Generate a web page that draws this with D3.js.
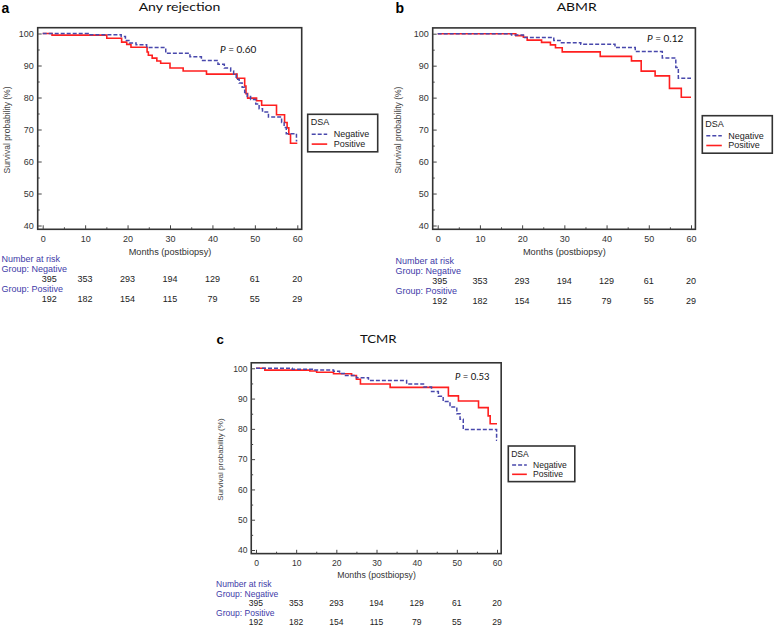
<!DOCTYPE html>
<html><head><meta charset="utf-8">
<script src="https://cdn.jsdelivr.net/npm/d3@7"></script>
<style>body{margin:0;background:#fff} svg{display:block}</style>
</head><body>
<svg id="chart" width="774" height="626"></svg>
<script>
// ---------- data ----------
const monthTicks = [0, 10, 20, 30, 40, 50, 60];
const monthMinor = [5, 15, 25, 35, 45, 55];
const survTicks = [40, 50, 60, 70, 80, 90, 100];
const survMinor = [45, 55, 65, 75, 85, 95];
const riskNeg = [395, 353, 293, 194, 129, 61, 20];
const riskPos = [192, 182, 154, 115, 79, 55, 29];
const groups = ["Negative", "Positive"];

// Kaplan-Meier steps: [month, survival %]
const anyNeg = [[0,100],[10.7,99.6],[18.5,99.1],[19.5,97.8],[20.5,97.0],[22,96.5],[24.5,95.6],[29,93.8],[34.7,92.7],[37.4,91.6],[41.3,90.4],[42.8,89.2],[44.3,88.3],[45,87.3],[45.6,85.7],[46.3,84.5],[47,83.2],[47.6,81.6],[48.2,80.3],[49,79.4],[50.2,78.0],[51,76.5],[51.8,75.5],[53.2,73.9],[56.3,72.2],[56.9,70.6],[57.4,68.7],[59.8,66.5],[60,66.5]];
const anyPos = [[0,100],[2.2,99.5],[15.1,98.5],[18.6,97.3],[19.8,96.6],[20.8,95.7],[24.6,94.2],[24.9,93.2],[25.8,92.3],[26.9,91.4],[27.8,90.7],[30,89.2],[33.1,88.3],[38.6,87.3],[45.8,86.0],[47.6,83.6],[47.9,81.2],[48.3,79.8],[50.4,79.0],[51.6,77.6],[55.1,74.6],[57,72.2],[57.6,70.5],[58,68.5],[58.4,65.7],[60,65.7]];
const abmrNeg = [[0,100],[17.5,99.6],[20.3,98.8],[27.5,97.9],[29,97.2],[33.9,96.7],[42,95.7],[46.8,94.4],[53.2,92.4],[56.4,89.4],[57,86.1],[60,86.1]];
const abmrPos = [[0,100],[18.5,99.4],[20.3,98.9],[21.2,98.0],[24.6,97.3],[26.7,96.5],[27.9,95.6],[29.5,94.3],[38.5,92.9],[45.9,91.5],[48.2,88.3],[51.5,86.8],[54.9,82.9],[57.7,80.1],[60,80.1]];
const tcmrNeg = [[0,100],[9,99.7],[14.3,99.4],[19.3,99.0],[20.8,98.3],[22,97.6],[25,96.9],[28,96.0],[37.5,94.8],[41.7,93.8],[43.7,92.3],[45.4,90.8],[46.6,89.0],[48.3,87.2],[50,85.0],[50.8,83.2],[51.6,79.8],[59.9,76.2],[60,76.2]];
const tcmrPos = [[0,100],[2.2,99.4],[13.4,99.1],[15.1,98.7],[19.3,98.2],[23.8,97.6],[25,96.4],[26,94.8],[33.4,93.7],[47.9,90.9],[50.4,89.2],[55.4,87.0],[57.8,84.3],[58.3,81.7],[60,81.7]];

const panelLetters = ["a", "b", "c"];
const panelTitles = ["Any rejection", "ABMR", "TCMR"];
const pValues = ["0.60", "0.12", "0.53"];

// ---------- layout ----------
const layouts = [
  {x0:42.7, x1:297.3, yTop:33.5, yBot:225.5, k:1, letterX:1.5, letterY:13, titleX:179.5, titleY:11.3, titleW:81.7,
   pX:220, pY:52.5, yTitleX:6.5, legX:307.7, legY:114.3, tabX:1.5, tabY:259.3, firstShift:6.5, series:[anyNeg, anyPos]},
  {x0:437.7, x1:691, yTop:33.7, yBot:225.5, k:1, letterX:395.5, letterY:13.3, titleX:576.7, titleY:11.3, titleW:40,
   pX:647, pY:41.5, yTitleX:397.5, legX:702.3, legY:115.7, tabX:395.5, tabY:260.7, firstShift:2, series:[abmrNeg, abmrPos]},
  {x0:256, x1:497, yTop:368.3, yBot:550, k:0.95, letterX:216.5, letterY:343.5, titleX:378.3, titleY:343.3, titleW:36.7,
   pX:455, pY:380, yTitleX:220.5, legX:508.3, legY:446, tabX:216, tabY:584, firstShift:0, series:[tcmrNeg, tcmrPos]}
];

const colNeg = "#4848ac", colPos = "#ff1f1f", frameCol = "#333", labCol = "#3e3aa8";
const svg = d3.select("#chart");
const sans = "'Liberation Sans', Arial, sans-serif";
const titleFont = "Lato, 'Open Sans', sans-serif";

layouts.forEach((L, i) => {
  const k = L.k;
  const g = svg.append("g");
  const x = d3.scaleLinear().domain([0, 60]).range([L.x0, L.x1]);
  const y = d3.scaleLinear().domain([40, 100]).range([L.yBot, L.yTop]);
  const fL = L.x0 - 5 * k, fR = L.x1 + 4.4 * k, fT = L.yTop - 5.8 * k, fB = L.yBot + 3.8 * k;

  // titles
  g.append("text").attr("x", L.letterX).attr("y", L.letterY).text(panelLetters[i])
    .attr("font-family", sans).attr("font-weight", "bold").attr("font-size", 14 * k).attr("fill", "#000");
  g.append("text").attr("x", L.titleX).attr("y", L.titleY).text(panelTitles[i])
    .attr("text-anchor", "middle").attr("font-family", titleFont).attr("font-size", 11.8 * k).attr("fill", "#111")
    .attr("textLength", L.titleW).attr("lengthAdjust", "spacingAndGlyphs");

  // frame
  g.append("rect").attr("x", fL).attr("y", fT).attr("width", fR - fL).attr("height", fB - fT)
    .attr("fill", "none").attr("stroke", frameCol).attr("stroke-width", 1.6);

  // axes
  const xAxis = g.append("g").attr("transform", `translate(0,${fB})`)
    .call(d3.axisBottom(x).tickValues(monthTicks).tickSize(-4 * k).tickPadding(6.5 * k).tickFormat(d3.format("d")));
  const xMinor = g.append("g").attr("transform", `translate(0,${fB})`)
    .call(d3.axisBottom(x).tickValues(monthMinor).tickSize(-2 * k).tickFormat(""));
  const yAxis = g.append("g").attr("transform", `translate(${fL},0)`)
    .call(d3.axisLeft(y).tickValues(survTicks).tickSize(-4 * k).tickPadding(4 * k).tickFormat(d3.format("d")));
  const yMinor = g.append("g").attr("transform", `translate(${fL},0)`)
    .call(d3.axisLeft(y).tickValues(survMinor).tickSize(-2 * k).tickFormat(""));
  [xAxis, xMinor, yAxis, yMinor].forEach(a => {
    a.select(".domain").remove();
    a.selectAll(".tick line").attr("stroke", "#444").attr("stroke-width", 1);
    a.selectAll(".tick text").attr("font-family", sans).attr("font-size", 9 * k).attr("fill", "#333");
  });

  // axis titles
  g.append("text").attr("x", (L.x0 + L.x1) / 2).attr("y", fB + 22.5 * k).text("Months (postbiopsy)")
    .attr("text-anchor", "middle").attr("dominant-baseline", "central")
    .attr("font-family", sans).attr("font-size", 9.2 * k).attr("fill", "#333");
  g.append("text").attr("transform", `translate(${L.yTitleX},${(L.yTop + L.yBot) / 2 + 0.5 * k}) rotate(-90)`)
    .text("Survival probability (%)").attr("text-anchor", "middle").attr("dominant-baseline", "central")
    .attr("font-family", sans).attr("font-size", 8.5 * k).attr("fill", "#444");

  // curves
  const line = d3.line().x(d => x(d[0])).y(d => y(d[1])).curve(d3.curveStepAfter);
  g.append("path").attr("d", line(L.series[1])).attr("fill", "none")
    .attr("stroke", colPos).attr("stroke-width", 1.6);
  g.append("path").attr("d", line(L.series[0])).attr("fill", "none")
    .attr("stroke", colNeg).attr("stroke-width", 1.5).attr("stroke-dasharray", "4,2");

  // P value
  const pt = g.append("text").attr("x", L.pX).attr("y", L.pY)
    .attr("font-family", titleFont).attr("font-size", 10 * k).attr("fill", "#111");
  pt.append("tspan").attr("font-style", "italic").text("P");
  pt.append("tspan").text(" = " + pValues[i]);

  // legend
  const lg = g.append("g").attr("transform", `translate(${L.legX},${L.legY})`);
  lg.append("rect").attr("width", 70 * k).attr("height", 37.5 * k).attr("fill", "#fff")
    .attr("stroke", frameCol).attr("stroke-width", 1.6);
  lg.append("text").attr("x", 3 * k).attr("y", 8 * k).text("DSA").attr("dominant-baseline", "central")
    .attr("font-family", sans).attr("font-size", 9 * k).attr("fill", "#222");
  groups.forEach((name, j) => {
    const yy = (20 + 9.8 * j) * k;
    lg.append("line").attr("x1", 4 * k).attr("x2", 19.5 * k).attr("y1", yy).attr("y2", yy)
      .attr("stroke", j ? colPos : colNeg).attr("stroke-width", 1.6)
      .attr("stroke-dasharray", j ? null : "4,2");
    lg.append("text").attr("x", 26 * k).attr("y", yy).text(name).attr("dominant-baseline", "central")
      .attr("font-family", sans).attr("font-size", 9 * k).attr("fill", "#222");
  });

  // number at risk table
  const rowH = 10 * k;
  const tab = g.append("g").attr("font-family", sans).attr("font-size", 9 * k);
  const labels = ["Number at risk", "Group: Negative", null, "Group: Positive", null];
  labels.forEach((t, r) => {
    if (t) tab.append("text").attr("x", L.tabX).attr("y", L.tabY + r * rowH).text(t)
      .attr("dominant-baseline", "central").attr("fill", labCol);
  });
  [riskNeg, riskPos].forEach((arr, r) => {
    tab.selectAll(null).data(arr).enter().append("text")
      .attr("x", (d, j) => x(monthTicks[j]) + (j === 0 ? L.firstShift : 0))
      .attr("y", L.tabY + (2 + 2 * r) * rowH)
      .attr("text-anchor", "middle").attr("dominant-baseline", "central")
      .attr("fill", "#222").text(d => d);
  });
});
</script>
</body></html>
